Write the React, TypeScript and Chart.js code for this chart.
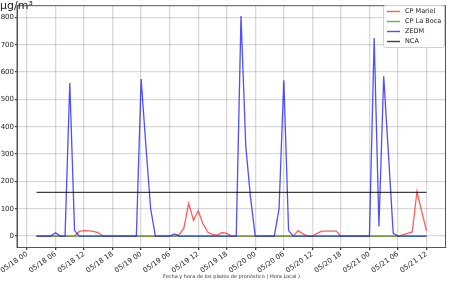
import React, { useEffect, useRef } from "react";
import { Chart, registerables } from "chart.js";
Chart.register(...registerables);

// hours since 05/18 00 (hourly forecast steps)
const hours = [
  2, 3, 4, 5, 6, 7, 8, 9, 10, 11,
  12, 13, 14, 15, 16, 17, 18, 19, 20, 21,
  22, 23, 24, 25, 26, 27, 28, 29, 30, 31,
  32, 33, 34, 35, 36, 37, 38, 39, 40, 41,
  42, 43, 44, 45, 46, 47, 48, 49, 50, 51,
  52, 53, 54, 55, 56, 57, 58, 59, 60, 61,
  62, 63, 64, 65, 66, 67, 68, 69, 70, 71,
  72, 73, 74, 75, 76, 77, 78, 79, 80, 81,
  82, 83, 84,
];

const tickHours = [0, 6, 12, 18, 24, 30, 36, 42, 48, 54, 60, 66, 72, 78, 84];
const tickLabels = [
  "05/18 00", "05/18 06", "05/18 12", "05/18 18",
  "05/19 00", "05/19 06", "05/19 12", "05/19 18",
  "05/20 00", "05/20 06", "05/20 12", "05/20 18",
  "05/21 00", "05/21 06", "05/21 12",
];
const yTicks = [0, 100, 200, 300, 400, 500, 600, 700, 800];

const seriesNames = ["CP Mariel", "CP La Boca", "ZEDM", "NCA"];
const seriesColors = [
  "rgba(255,40,40,0.75)",
  "rgba(40,170,40,0.8)",
  "rgba(20,20,255,0.75)",
  "rgba(0,0,0,0.75)",
];

const mariel = [
  0, 0, 0, 0, 0, 0, 0, 0, 0, 17,
  20, 19, 17, 12, 0, 0, 0, 0, 0, 0,
  0, 0, 0, 0, 0, 0, 0, 0, 0, 0,
  5, 30, 120, 58, 92, 45, 15, 5, 3, 13,
  10, 0, 0, 0, 0, 0, 0, 0, 0, 0,
  0, 0, 0, 0, 0, 20, 8, 0, 0, 10,
  18, 18, 18, 18, 0, 0, 0, 0, 0, 0,
  0, 0, 0, 0, 0, 0, 0, 4, 10, 15,
  163, 90, 19,
];
const laBoca = [
  0, 0, 0, 0, 0, 0, 0, 0, 0, 0,
  0, 0, 0, 0, 0, 0, 0, 0, 0, 0,
  0, 0, 0, 0, 0, 0, 0, 0, 0, 0,
  0, 0, 0, 0, 0, 0, 0, 0, 0, 0,
  0, 0, 0, 0, 0, 0, 0, 0, 0, 0,
  0, 0, 0, 0, 0, 0, 0, 0, 0, 0,
  0, 0, 0, 0, 0, 0, 0, 0, 0, 0,
  0, 0, 0, 0, 0, 0, 0, 0, 0, 0,
  0, 0, 0,
];
const zedm = [
  0, 0, 0, 0, 12, 0, 0, 560, 20, 0,
  0, 0, 0, 0, 0, 0, 0, 0, 0, 0,
  0, 0, 575, 330, 100, 0, 0, 0, 0, 8,
  0, 0, 0, 0, 0, 0, 0, 0, 0, 0,
  0, 0, 0, 805, 330, 140, 0, 0, 0, 0,
  0, 100, 570, 20, 0, 0, 0, 0, 0, 0,
  0, 0, 0, 0, 0, 0, 0, 0, 0, 0,
  0, 725, 35, 585, 300, 10, 0, 0, 0, 0,
  0, 0, 0,
];
const nca = [
  160, 160, 160, 160, 160, 160, 160, 160, 160, 160,
  160, 160, 160, 160, 160, 160, 160, 160, 160, 160,
  160, 160, 160, 160, 160, 160, 160, 160, 160, 160,
  160, 160, 160, 160, 160, 160, 160, 160, 160, 160,
  160, 160, 160, 160, 160, 160, 160, 160, 160, 160,
  160, 160, 160, 160, 160, 160, 160, 160, 160, 160,
  160, 160, 160, 160, 160, 160, 160, 160, 160, 160,
  160, 160, 160, 160, 160, 160, 160, 160, 160, 160,
  160, 160, 160,
];

const FONT = "'DejaVu Sans', sans-serif";

export default function App() {
  const ref = useRef<HTMLCanvasElement>(null);

  useEffect(() => {
    if (!ref.current) return;
    const series = [mariel, laBoca, zedm, nca];
    const toPts = (arr: number[]) => hours.map((h, i) => ({ x: h, y: arr[i] }));

    const framePlugin = {
      id: "frame",
      afterDraw(chart: any) {
        const { ctx, chartArea: a } = chart;
        ctx.save();
        ctx.strokeStyle = "#555";
        ctx.lineWidth = 1;
        ctx.strokeRect(a.left, a.top + 0.5, a.right - a.left - 0.5, a.bottom - a.top);
        // unit label
        ctx.fillStyle = "#222";
        ctx.font = `11px ${FONT}`;
        ctx.textAlign = "left";
        ctx.textBaseline = "alphabetic";
        ctx.fillText("µg/m³", 0, 9);
        // legend
        const bx = 383, by = 5, bw = 61, bh = 42;
        ctx.fillStyle = "rgba(255,255,255,0.85)";
        ctx.strokeStyle = "#d0d0d0";
        ctx.lineWidth = 1;
        ctx.beginPath();
        if ((ctx as any).roundRect) (ctx as any).roundRect(bx + 0.5, by + 0.5, bw, bh, 2);
        else ctx.rect(bx + 0.5, by + 0.5, bw, bh);
        ctx.fill();
        ctx.stroke();
        chart.data.datasets.forEach((ds: any, i: number) => {
          const y = by + 6 + i * 10;
          ctx.strokeStyle = ds.borderColor;
          ctx.lineWidth = 1.4;
          ctx.beginPath();
          ctx.moveTo(387, y + 0.5);
          ctx.lineTo(400, y + 0.5);
          ctx.stroke();
          ctx.fillStyle = "#222";
          ctx.font = `6.5px ${FONT}`;
          ctx.textBaseline = "middle";
          ctx.fillText(ds.label, 405, y + 0.5);
        });
        ctx.restore();
      },
    };

    const chart = new Chart(ref.current, {
      type: "line",
      data: {
        datasets: seriesNames.map((name, i) => ({
          label: name,
          data: toPts(series[i]),
          borderColor: seriesColors[i],
          backgroundColor: seriesColors[i],
          borderWidth: 1.3,
          pointRadius: 0,
          tension: 0,
          fill: false,
          order: 4 - i,
        })),
      },
      options: {
        responsive: false,
        animation: false,
        events: [],
        layout: { padding: { top: 3, right: 4, left: 0, bottom: 0 } },
        plugins: {
          legend: { display: false },
          title: { display: false },
          tooltip: { enabled: false },
        },
        scales: {
          x: {
            type: "linear",
            min: -2.1,
            max: 88.1,
            afterBuildTicks: (s: any) => {
              s.ticks = tickHours.map((v) => ({ value: v }));
            },
            afterFit: (s: any) => {
              s.height = 35;
            },
            ticks: {
              autoSkip: false,
              minRotation: 35,
              maxRotation: 35,
              padding: 0,
              color: "#222",
              font: { family: FONT, size: 7 },
              callback: (v: any) => {
                const idx = tickHours.indexOf(Number(v));
                return idx >= 0 ? tickLabels[idx] : "";
              },
            },
            grid: {
              color: "rgba(0,0,0,0.15)",
              lineWidth: 1.3,
              tickLength: 3,
              tickColor: "#444",
            },
            border: { display: true, color: "#555", width: 1 },
            title: {
              display: true,
              text: "Fecha y hora de los plazos de pronóstico ( Hora Local )",
              color: "#333",
              font: { family: FONT, size: 5 },
              padding: { top: 0, bottom: 2 },
            },
          },
          y: {
            type: "linear",
            min: -40,
            max: 845,
            afterBuildTicks: (s: any) => {
              s.ticks = yTicks.map((v) => ({ value: v }));
            },
            afterFit: (s: any) => {
              s.width = 17;
            },
            ticks: {
              padding: 1,
              color: "#222",
              font: { family: FONT, size: 7 },
            },
            grid: {
              color: "rgba(0,0,0,0.15)",
              lineWidth: 1.3,
              tickLength: 2,
              tickColor: "#444",
            },
            border: { display: true, color: "#555", width: 1 },
          },
        },
      },
      plugins: [framePlugin],
    } as any);

    return () => chart.destroy();
  }, []);

  return (
    <div style={{ position: "absolute", left: 0, top: 0, width: 450, height: 282, background: "#fff" }}>
      <canvas ref={ref} width={450} height={282} style={{ display: "block" }} />
    </div>
  );
}
